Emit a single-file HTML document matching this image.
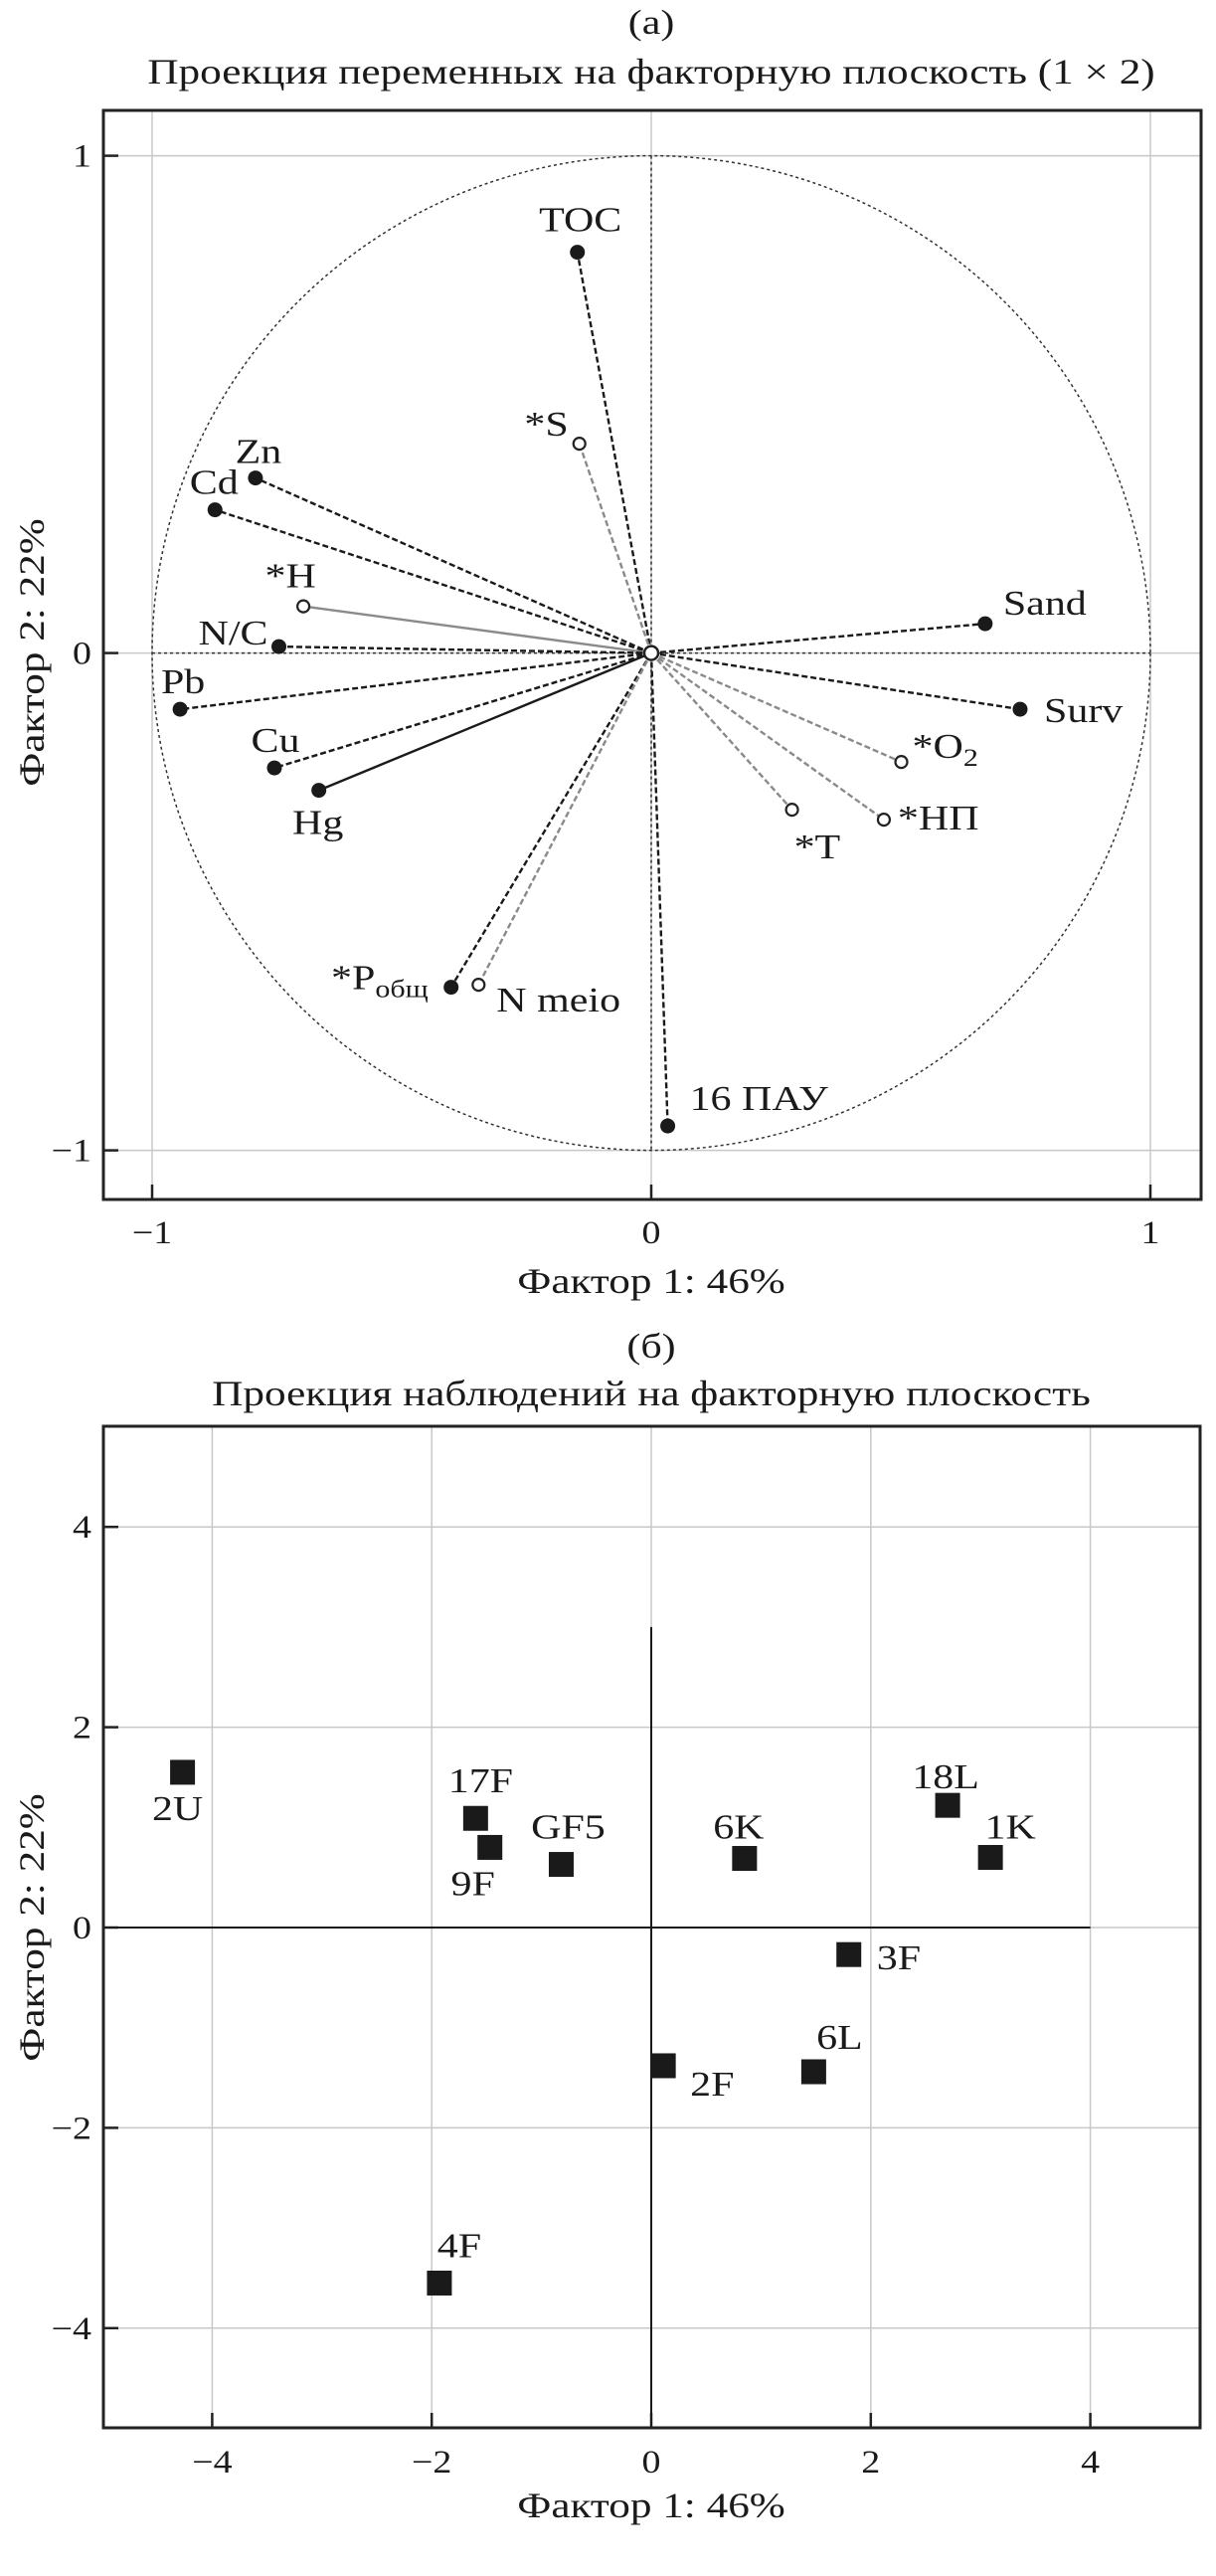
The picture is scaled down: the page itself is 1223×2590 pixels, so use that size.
<!DOCTYPE html>
<html><head><meta charset="utf-8"><style>
html,body{margin:0;padding:0;background:#fff;}
svg{display:block;font-family:"Liberation Serif","DejaVu Serif",serif;}
</style></head><body>
<svg id="fig" width="1223" height="2590" viewBox="0 0 1223 2590" xmlns="http://www.w3.org/2000/svg">
<g id="chartA"></g>
<g id="chartB"></g>
</svg>
<script>
// ---- Chart A data ----
const varNames = ["TOC","*S","Zn","Cd","*H","N/C","Pb","Cu","Hg","*Pобщ","N meio","16 ПАУ","Sand","Surv","*O2","*НП","*T"];
const varF1 = [-0.148,-0.144,-0.793,-0.874,-0.697,-0.746,-0.944,-0.755,-0.666,-0.401,-0.346,0.033,0.669,0.739,0.501,0.466,0.282];
const varF2 = [0.806,0.421,0.352,0.288,0.094,0.013,-0.113,-0.231,-0.276,-0.672,-0.667,-0.951,0.059,-0.113,-0.219,-0.335,-0.315];
const varOpen = [0,1,0,0,1,0,0,0,0,0,1,0,0,0,1,1,1];
const varLine = ["kd","gd","kd","kd","gs","kd","kd","kd","ks","kd","gd","kd","kd","kd","gd","gd","gd"];
const varLabelDx = [3,-11,3,-1,-13,-11,3,1,-1,-23,18,22,18,24,11,14,2];
const varLabelDy = [-21,-8,-15,-16,-19,-2,-16,-16,44,2,27,-16,-9,13,-4,10,49];
const varAnchor = ["middle","end","middle","middle","middle","end","middle","middle","middle","end","start","start","start","start","start","start","start"];
const ticksA = [-1,0,1];
const tickLabelsA = ["\u22121","0","1"];
// ---- Chart B data ----
const obsNames = ["2U","17F","9F","GF5","6K","18L","1K","3F","6L","2F","4F"];
const obsF1 = [-4.27,-1.60,-1.47,-0.82,0.85,2.70,3.09,1.80,1.48,0.11,-1.93];
const obsF2 = [1.55,1.09,0.80,0.63,0.69,1.22,0.70,-0.27,-1.44,-1.38,-3.55];
const obsLabelDx = [-5,5,-17,7,-6,-2,20,28,26,27,20];
const obsLabelDy = [48,-26,48,-26,-20,-17,-19,15,-23,30,-26];
const obsAnchor = ["middle","middle","middle","middle","middle","middle","middle","start","middle","start","middle"];
const ticksB = [-4,-2,0,2,4];
const tickLabelsB = ["\u22124","\u22122","0","2","4"];

const NS="http://www.w3.org/2000/svg";
function mk(parent,tag,attrs,text){const e=document.createElementNS(NS,tag);for(const k in attrs)e.setAttribute(k,attrs[k]);if(text!==undefined)e.textContent=text;parent.appendChild(e);return e;}
function txt(parent,x,y,anchor,size,str,sx,rot){
  const tr=rot?`translate(${x},${y}) rotate(-90) scale(${sx},1)`:`translate(${x},${y}) scale(${sx},1)`;
  return mk(parent,'text',{x:0,y:0,'text-anchor':anchor,'font-size':size,transform:tr,fill:'#1a1a1a'},str);
}

// ---------- Chart A ----------
const A=document.getElementById('chartA');
const ax=v=>655+502*v, ay=v=>656.6-500*v;
const aBox={l:104,r:1208,t:111,b:1206};
let t;
t=txt(A,655,34,'middle',35,'(a)',1.2);


t=txt(A,655,84,'middle',36,'Проекция переменных на факторную плоскость (1 × 2)',1.2);


ticksA.forEach((v,i)=>{
  let g=mk(A,'line',{x1:ax(v),x2:ax(v),y1:aBox.t,y2:aBox.b,stroke:'#c8c8c8','stroke-width':1.5});
  
  
  g=mk(A,'line',{y1:ay(v),y2:ay(v),x1:aBox.l,x2:aBox.r,stroke:'#c8c8c8','stroke-width':1.5});
  
  
  mk(A,'line',{x1:ax(v),x2:ax(v),y1:aBox.b,y2:aBox.b-15,stroke:'#222','stroke-width':2.5});
  mk(A,'line',{x1:aBox.l,x2:aBox.l+15,y1:ay(v),y2:ay(v),stroke:'#222','stroke-width':2.5});
  let l=txt(A,ax(v),1250,'middle',33,tickLabelsA[i],1.15);
  
  
  l=txt(A,92,ay(v)+11,'end',33,tickLabelsA[i],1.15);
  
  
});
let c=mk(A,'ellipse',{cx:ax(0),cy:ay(0),rx:502,ry:500,fill:'none',stroke:'#333','stroke-width':1.5,'stroke-dasharray':'3,3'});


mk(A,'line',{x1:ax(0),x2:ax(0),y1:ay(1),y2:ay(-1),stroke:'#333','stroke-width':1.5,'stroke-dasharray':'3,3'});
mk(A,'line',{x1:ax(-1),x2:ax(1),y1:ay(0),y2:ay(0),stroke:'#333','stroke-width':1.5,'stroke-dasharray':'3,3'});
let bx=mk(A,'rect',{x:aBox.l,y:aBox.t,width:aBox.r-aBox.l,height:aBox.b-aBox.t,fill:'none',stroke:'#222','stroke-width':3});


varNames.forEach((n,i)=>{
  const x=ax(varF1[i]),y=ay(varF2[i]);
  const st=varLine[i];
  const attrs={x1:ax(0),y1:ay(0),x2:x,y2:y,stroke:st[0]==='g'?'#8a8a8a':'#1a1a1a','stroke-width':2.4};
  if(st[1]==='d')attrs['stroke-dasharray']='6,3';
  const ln=mk(A,'line',attrs);
  
  
});
mk(A,'circle',{cx:ax(0),cy:ay(0),r:7,fill:'#fff',stroke:'#222','stroke-width':2.5});
varNames.forEach((n,i)=>{
  const x=ax(varF1[i]),y=ay(varF2[i]);
  const p=varOpen[i]?mk(A,'circle',{cx:x,cy:y,r:6,fill:'#fff',stroke:'#222','stroke-width':2.2}):mk(A,'circle',{cx:x,cy:y,r:7.5,fill:'#1a1a1a'});
  
  
  const lb=txt(A,x+varLabelDx[i],y+varLabelDy[i],varAnchor[i],35,undefined,1.2);
  
  
  if(n==='*O2'){mk(lb,'tspan',{},'*O');mk(lb,'tspan',{'font-size':25,dy:8},'2');}
  else if(n==='*Pобщ'){mk(lb,'tspan',{},'*P');mk(lb,'tspan',{'font-size':25,dy:8},'общ');}
  else lb.textContent=n;
});
t=txt(A,655,1300,'middle',36,'Фактор 1: 46%',1.2);


t=txt(A,44,656,'middle',36,'Фактор 2: 22%',1.2,true);



// ---------- Chart B ----------
const B=document.getElementById('chartB');
const bxf=v=>655+110.4*v, byf=v=>1938-100.7*v;
const bBox={l:104,r:1207,t:1434,b:2441};
t=txt(B,655,1365,'middle',35,'(б)',1.2);


t=txt(B,655,1413,'middle',36,'Проекция наблюдений на факторную плоскость',1.2);


ticksB.forEach((v,i)=>{
  let g=mk(B,'line',{x1:bxf(v),x2:bxf(v),y1:bBox.t,y2:bBox.b,stroke:'#c8c8c8','stroke-width':1.5});
  
  
  g=mk(B,'line',{y1:byf(v),y2:byf(v),x1:bBox.l,x2:bBox.r,stroke:'#c8c8c8','stroke-width':1.5});
  
  
  mk(B,'line',{x1:bxf(v),x2:bxf(v),y1:bBox.b,y2:bBox.b-15,stroke:'#222','stroke-width':2.5});
  mk(B,'line',{x1:bBox.l,x2:bBox.l+15,y1:byf(v),y2:byf(v),stroke:'#222','stroke-width':2.5});
  let l=txt(B,bxf(v),2486,'middle',33,tickLabelsB[i],1.15);
  
  
  l=txt(B,92,byf(v)+11,'end',33,tickLabelsB[i],1.15);
  
  
});
mk(B,'line',{x1:bxf(0),x2:bxf(0),y1:byf(3),y2:bBox.b,stroke:'#1a1a1a','stroke-width':2});
mk(B,'line',{x1:bBox.l,x2:bxf(4),y1:byf(0),y2:byf(0),stroke:'#1a1a1a','stroke-width':2});
bx=mk(B,'rect',{x:bBox.l,y:bBox.t,width:bBox.r-bBox.l,height:bBox.b-bBox.t,fill:'none',stroke:'#222','stroke-width':3});


obsNames.forEach((n,i)=>{
  const x=bxf(obsF1[i]),y=byf(obsF2[i]);
  const s=mk(B,'rect',{x:x-12.5,y:y-12.5,width:25,height:25,fill:'#1a1a1a'});
  
  
  const lb=txt(B,x+obsLabelDx[i],y+obsLabelDy[i],obsAnchor[i],35,n,1.2);
  
  
});
t=txt(B,655,2531,'middle',36,'Фактор 1: 46%',1.2);


t=txt(B,44,1938,'middle',36,'Фактор 2: 22%',1.2,true);


</script>
</body></html>
